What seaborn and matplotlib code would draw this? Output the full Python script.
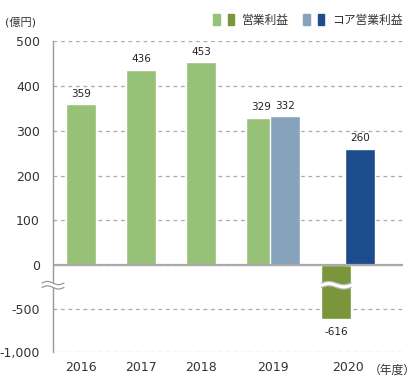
import numpy as np
import pandas as pd
import seaborn as sns
import matplotlib.pyplot as plt
from matplotlib.patches import Patch, Polygon
from matplotlib.legend_handler import HandlerTuple
from matplotlib.transforms import IdentityTransform

sns.set_theme(style="white")
plt.rcParams['font.family'] = ['DejaVu Sans', 'Noto Sans CJK JP']

# データ
years = ['2016', '2017', '2018', '2019', '2020']
op_profit = [359, 436, 453, 329, -616]        # 営業利益
core_years = ['2019', '2020']
core_profit = [332, 260]                      # コア営業利益
y_ticks = [-1000, -500, 0, 100, 200, 300, 400, 500]
y_labels = ['-1,000', '-500', '0', '100', '200', '300', '400', '500']

# 色
c_green = {'2016': '#98c178', '2017': '#98c178', '2018': '#98c178',
           '2019': '#98c178', '2020': '#7a963a'}
c_blue = {'2019': '#87a3bc', '2020': '#1d4c8c'}

# レイアウト（カテゴリ中心と2本並びのずれ）
centers = {'2016': 0, '2017': 1, '2018': 2, '2019': 3.2, '2020': 4.45}
shift = 0.195
bar_w = 0.5

rows = []
for y, v in zip(years, op_profit):
    x = centers[y] - shift if y in core_years else centers[y]
    rows.append({'x': x, 'val': v, 'key': 'op' + y})
for y, v in zip(core_years, core_profit):
    rows.append({'x': centers[y] + shift, 'val': v, 'key': 'core' + y})
df = pd.DataFrame(rows)

palette = {'op' + y: c_green[y] for y in years}
palette.update({'core' + y: c_blue[y] for y in core_years})
hue_order = ['op' + y for y in years] + ['core' + y for y in core_years]

fig = plt.figure(figsize=(4.2, 3.82), dpi=100)
ax = fig.add_axes([53 / 420, 30 / 382, 350 / 420, 311 / 382])

native = np.diff(np.unique(df['x'])).min()
sns.barplot(data=df, x='x', y='val', hue='key', hue_order=hue_order,
            palette=palette, native_scale=True, dodge=False,
            width=bar_w / native, errorbar=None, legend=False,
            saturation=1, ax=ax)

# 縦軸を途中で圧縮（0未満を縮める）
k = 0.1933
fwd = lambda y: np.where(np.asarray(y) >= 0, y, np.asarray(y) * k)
inv = lambda y: np.where(np.asarray(y) >= 0, y, np.asarray(y) / k)
ax.set_yscale('function', functions=(fwd, inv))
ax.set_ylim(-1000, 500)
ax.set_xlim((53 - 81) / 60, (403 - 81) / 60)

ax.set_yticks(y_ticks)
ax.set_yticklabels(y_labels)
ax.set_xticks([centers[y] for y in years])
ax.set_xticklabels(years)
ax.set_xlabel('')
ax.set_ylabel('')
ax.tick_params(axis='y', length=0, pad=9.5, labelsize=9, labelcolor='#333333')
ax.tick_params(axis='x', length=0, pad=6.5, labelsize=9, labelcolor='#333333')

ax.set_axisbelow(True)
ax.yaxis.grid(True, linestyle=(0, (3, 3)), color='#aaaaaa', linewidth=0.9)
ax.xaxis.grid(False)
for s in ['top', 'right', 'bottom']:
    ax.spines[s].set_visible(False)
ax.spines['left'].set_color('#999999')
ax.spines['left'].set_linewidth(1)
ax.axhline(0, color='#aaaaaa', linewidth=1.6, zorder=1.5)

# 値ラベル
for y, v in zip(years, op_profit):
    x = centers[y] - shift if y in core_years else centers[y]
    off = 4 if v >= 0 else -6
    ax.annotate(str(v), (x, v), xytext=(0, off), textcoords='offset points',
                ha='center', va='bottom' if v >= 0 else 'top',
                fontsize=7.5, color='#222222')
for y, v in zip(core_years, core_profit):
    ax.annotate(str(v), (centers[y] + shift, v), xytext=(0, 4),
                textcoords='offset points', ha='center', va='bottom',
                fontsize=7.5, color='#222222')

ax.annotate('（年度）', (1.0, 0), xycoords='axes fraction', xytext=(-8, -8.5),
            textcoords='offset points', ha='center', va='top',
            fontsize=8.5, color='#333333')
fig.text(5 / 420, 1 - 22 / 382, '(億円)', fontsize=8, color='#333333',
         ha='left', va='center')

# 波線（省略記号）
def wave_break(x_data, y_data, half_w, line_color):
    X, Y = ax.transData.transform((x_data, y_data))
    t = np.linspace(-half_w, half_w, 60)
    wav = 1.6 * np.sin(2 * np.pi * (t + half_w) / (2 * half_w))
    up = Y + 2.2 + wav
    lo = Y - 2.2 + wav
    pts = np.vstack([np.column_stack([X + t, up]),
                     np.column_stack([X + t[::-1], lo[::-1]])])
    ax.add_patch(Polygon(pts, closed=True, facecolor='white', edgecolor='none',
                         transform=IdentityTransform(), clip_on=False, zorder=5))
    ax.plot(X + t, up, color=line_color, lw=0.9, transform=IdentityTransform(),
            clip_on=False, zorder=6)
    ax.plot(X + t, lo, color=line_color, lw=0.9, transform=IdentityTransform(),
            clip_on=False, zorder=6)

fig.canvas.draw()
wave_break(ax.get_xlim()[0], -230, 11, '#999999')
wave_break(centers['2020'] - shift, -230, 15, '#bbbbbb')

# 凡例
handles = [(Patch(color=c_green['2019']), Patch(color=c_green['2020'])),
           (Patch(color=c_blue['2019']), Patch(color=c_blue['2020']))]
fig.legend(handles, ['営業利益', 'コア営業利益'], ncol=2, frameon=False,
           loc='center right', bbox_to_anchor=(403 / 420, 1 - 20 / 382),
           handler_map={tuple: HandlerTuple(ndivide=None, pad=0.68)},
           handlelength=1.78, handleheight=1.1, handletextpad=0.68,
           columnspacing=1.2, borderpad=0, borderaxespad=0,
           fontsize=8.5, labelcolor='#333333')

fig.savefig('out.png', dpi=100)
